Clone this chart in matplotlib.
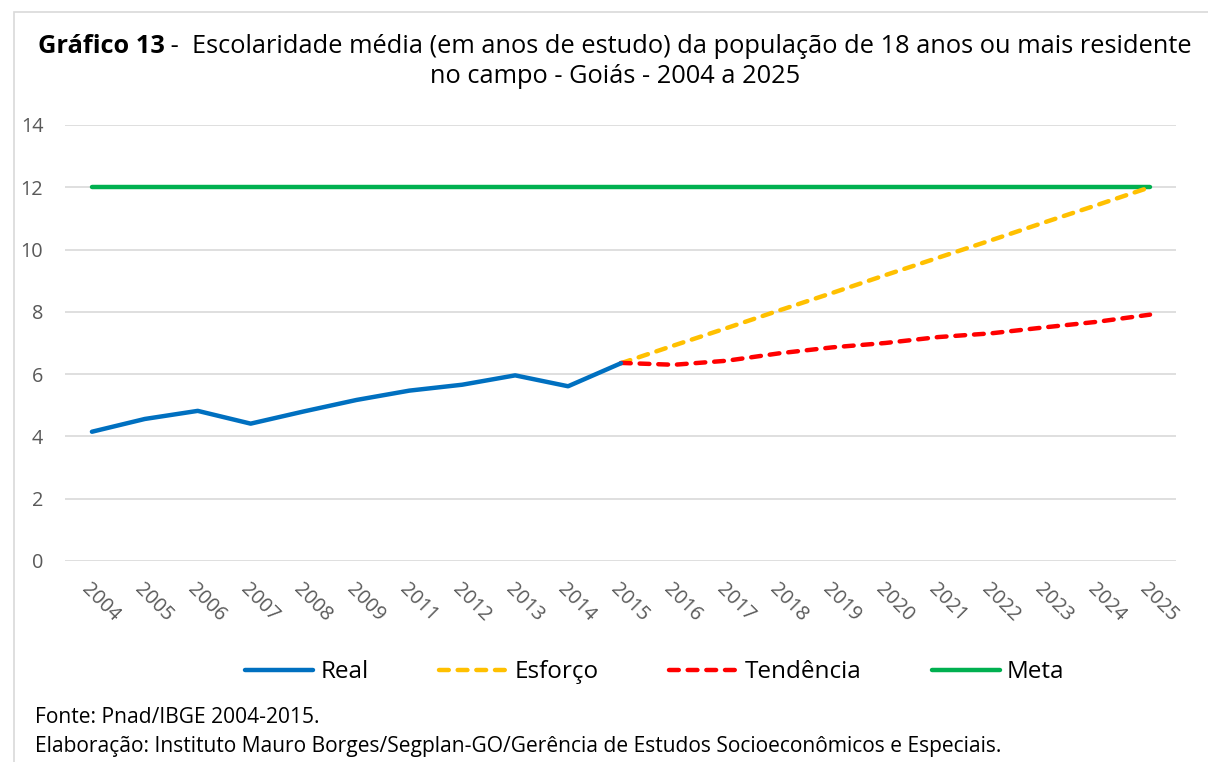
import matplotlib.pyplot as plt
from matplotlib.patches import Rectangle
from matplotlib.transforms import ScaledTranslation

# dados
anos = ['2004', '2005', '2006', '2007', '2008', '2009', '2011', '2012', '2013',
        '2014', '2015', '2016', '2017', '2018', '2019', '2020', '2021', '2022',
        '2023', '2024', '2025']
real = [4.15, 4.56, 4.82, 4.41, 4.80, 5.17, 5.47, 5.66, 5.96, 5.61, 6.35]
esforco = [6.35, 6.92, 7.48, 8.05, 8.61, 9.18, 9.74, 10.30, 10.87, 11.43, 12.00]
tendencia = [6.36, 6.30, 6.43, 6.67, 6.86, 7.00, 7.19, 7.31, 7.50, 7.68, 7.91]
meta = [12.0] * len(anos)

plt.rcParams['font.family'] = ['Open Sans', 'DejaVu Sans']

fig = plt.figure(figsize=(12.08, 7.62), dpi=100)
ax = fig.add_axes([0.0542, 0.2638, 0.9197, 0.5722])

# moldura do gráfico (estilo Excel)
fig.patches.append(Rectangle((14 / 1208, -0.1), 1.2, 1.1 - 12 / 762,
                             transform=fig.transFigure, fill=False,
                             edgecolor='#d9d9d9', lw=1.2))

x_real = list(range(len(real)))
x_proj = list(range(len(real) - 1, len(anos)))

ax.plot(range(len(anos)), meta, color='#00B050', lw=3.2,
        solid_capstyle='round', label='Meta', zorder=3)
ax.plot(x_real, real, color='#0070C0', lw=3.2,
        solid_capstyle='round', label='Real', zorder=4)
ax.plot(x_proj, esforco, color='#FFC000', lw=3.2, dashes=(2.2, 2.0),
        dash_capstyle='round', label='Esforço', zorder=3)
ax.plot(x_proj, tendencia, color='#FF0000', lw=3.2, dashes=(2.2, 2.0),
        dash_capstyle='round', label='Tendência', zorder=3)

ax.set_xlim(-0.5, len(anos) - 0.5)
ax.set_ylim(0, 14)
ax.set_yticks(range(0, 15, 2))
ax.set_xticks(range(len(anos)))
ax.set_xticklabels(anos, rotation=-45, ha='left', rotation_mode='anchor')
desloc = ScaledTranslation(5 / 100, 0, fig.dpi_scale_trans)
for t in ax.get_xticklabels():
    t.set_transform(t.get_transform() + desloc)
ax.tick_params(axis='both', length=0, labelsize=14.3, colors='#595959')
ax.tick_params(axis='x', pad=13)
ax.tick_params(axis='y', pad=16)
ax.grid(axis='y', color='#d9d9d9', lw=1.2)
ax.set_axisbelow(True)
for s in ax.spines.values():
    s.set_visible(False)

# título: parte em negrito + resto, centralizados juntos
tam = 18.3
r = fig.canvas.get_renderer()
t1 = fig.text(0, 0.939, 'Gráfico 13', fontsize=tam, fontweight='bold', va='center')
t2 = fig.text(0, 0.939, ' -  Escolaridade média (em anos de estudo) da população de 18 anos ou mais residente',
              fontsize=tam, va='center')
w1 = t1.get_window_extent(r).width / fig.bbox.width
w2 = t2.get_window_extent(r).width / fig.bbox.width
x0 = 0.5 - (w1 + w2) / 2 + 0.009
t1.set_x(x0)
t2.set_x(x0 + w1)
fig.text(0.5 + 0.009, 0.899, 'no campo - Goiás - 2004 a 2025',
         ha='center', va='center', fontsize=tam)

h, l = ax.get_legend_handles_labels()
ordem = [1, 2, 3, 0]
fig.legend([h[i] for i in ordem], [l[i] for i in ordem], ncol=4,
           loc='center', bbox_to_anchor=(0.542, 0.118), frameon=False,
           fontsize=17.5, handlelength=2.8, handletextpad=0.3, columnspacing=2.9)

fig.text(0.029, 0.058, 'Fonte: Pnad/IBGE 2004-2015.', fontsize=15.1, va='center')
fig.text(0.029, 0.020, 'Elaboração: Instituto Mauro Borges/Segplan-GO/Gerência de Estudos Socioeconômicos e Especiais.',
         fontsize=15.1, va='center')

plt.savefig('out.png', dpi=100)
